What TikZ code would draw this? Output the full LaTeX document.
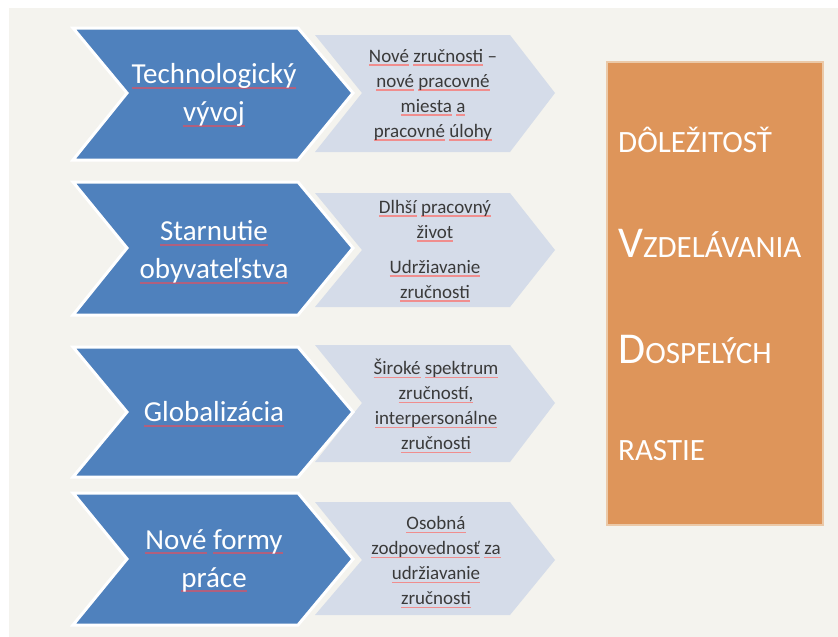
\documentclass[tikz,border=0pt]{standalone}
\usepackage{fontspec}
\setmainfont{Carlito}
\definecolor{bgbeige}{HTML}{F4F3EE}
\definecolor{chevblue}{HTML}{4F81BD}
\definecolor{chevlight}{HTML}{D5DCE9}
\definecolor{boxorange}{HTML}{DE955A}
\definecolor{boxedge}{HTML}{EBC9A8}
\definecolor{txtgray}{HTML}{3A3A3A}
\definecolor{uldark}{HTML}{B0607E}
\definecolor{ullight}{HTML}{F08E8E}
\newcommand\uld[1]{\setbox0\hbox{#1}\leavevmode\rlap{\textcolor{uldark}{\rule[-5pt]{\wd0}{2pt}}}\box0\relax}
\newcommand\ull[1]{\setbox0\hbox{#1}\leavevmode\rlap{\textcolor{ullight}{\rule[-4pt]{\wd0}{1.6pt}}}\box0\relax}
\newcommand\chevD[3]{\path[darkchev] (73,#1) -- (298,#1) -- (353,#2) -- (298,#3) -- (73,#3) -- (127,#2) -- cycle;}
\newcommand\chevL[3]{\path[lightchev] (315,#1) -- (510,#1) -- (555,#2) -- (510,#3) -- (315,#3) -- (362,#2) -- cycle;}
\begin{document}
\begin{tikzpicture}[x=1pt,y=-1pt,
  darkchev/.style={fill=chevblue,draw=white,line width=3pt,line join=miter},
  lightchev/.style={fill=chevlight},
  darktext/.style={text=white,align=center,font=\fontsize{29}{38}\selectfont,inner sep=0pt},
  lighttext/.style={text=txtgray,align=center,font=\fontsize{19}{25}\selectfont,inner sep=0pt},
  boxtext/.style={text=white,anchor=base west,inner sep=0pt,font=\fontsize{31}{31}\selectfont}]
\useasboundingbox (0,0) rectangle (838,637);
\fill[white] (0,0) rectangle (838,637);
\fill[bgbeige] (9,8) rectangle (838,637);

% row 1
\chevL{35}{93}{152}
\chevD{28}{93}{160}
% row 2
\chevL{193}{250}{307}
\chevD{182}{248}{315}
% row 3
\chevL{345}{403}{462}
\chevD{347}{412}{477}
% row 4
\chevL{502}{560}{615}
\chevD{493}{559}{625}

\node[darktext] (d1) at (214,95) {\uld{Technologický}\\\uld{vývoj}};
\node[darktext] (d2) at (214,252) {\uld{Starnutie}\\\uld{obyvateľstva}};
\node[darktext] (d3) at (214,414) {\uld{Globalizácia}};
\node[darktext] (d4) at (214,561) {\uld{Nové} \uld{formy}\\\uld{práce}};

\node[lighttext] (l1) at (433,95) {\ull{Nové} \ull{zručnosti} –\\\ull{nové} \ull{pracovné}\\\ull{miesta} \ull{a}\\\ull{pracovné} \ull{úlohy}};
\node[lighttext] (l2) at (435,251) {\ull{Dlhší} \ull{pracovný}\\\ull{život}\\[10pt]\ull{Udržiavanie}\\\ull{zručnosti}};
\node[lighttext] (l3) at (436,406) {\ull{Široké} \ull{spektrum}\\\ull{zručností,}\\\ull{interpersonálne}\\\ull{zručnosti}};
\node[lighttext] (l4) at (436,562) {\ull{Osobná}\\\ull{zodpovednosť} \ull{za}\\\ull{udržiavanie}\\\ull{zručnosti}};

\node[fill=boxorange,draw=boxedge,line width=2pt,minimum width=216pt,minimum height=463pt,inner sep=0pt] (box) at (715,293.5) {};
\node[boxtext] (t1) at (618,152) {DÔLEŽITOSŤ};
\node[boxtext] (t2) at (618,257) {{\fontsize{44}{44}\selectfont V}ZDELÁVANIA};
\node[boxtext] (t3) at (618,363) {{\fontsize{44}{44}\selectfont D}OSPELÝCH};
\node[boxtext] (t4) at (618,460) {RASTIE};
\end{tikzpicture}
\end{document}
